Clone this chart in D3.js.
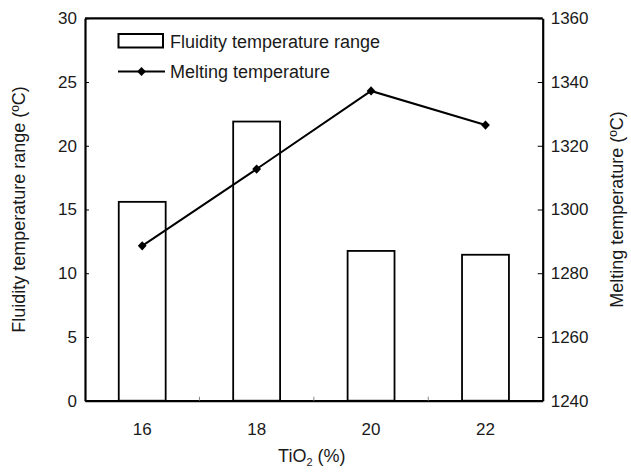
<!DOCTYPE html>
<html>
<head>
  <style>
    body { margin: 0; background: #fff; }
    text { font-family: "Liberation Sans", Arial, sans-serif; fill: #1a1a1a; }
  </style>
</head>
<body>
  <script src="https://d3js.org/d3.v7.min.js"></script>
  <script>
    // Data
    var categories = ["16", "18", "20", "22"];
    var fluidityRange = [15.6, 21.9, 11.75, 11.45];
    var meltingTemp = [1288.6, 1312.7, 1337.2, 1326.5];
    var leftTicks = [0, 5, 10, 15, 20, 25, 30];
    var rightTicks = [1240, 1260, 1280, 1300, 1320, 1340, 1360];

    var W = 631, H = 472;
    var margin = { top: 18.3, right: 88.3, bottom: 71.3, left: 85 },
      width = W - margin.left - margin.right,
      height = H - margin.top - margin.bottom;

    var svg = d3.select("body").append("svg")
      .attr("width", W)
      .attr("height", H);

    var g = svg.append("g")
      .attr("transform", "translate(" + margin.left + "," + margin.top + ")");

    var x = d3.scaleBand().domain(categories).range([0, width]);
    var yL = d3.scaleLinear().domain([0, 30]).range([height, 0]);
    var yR = d3.scaleLinear().domain([1240, 1360]).range([height, 0]);

    var barW = x.bandwidth() * 0.41;

    // Bars
    g.selectAll(".bar")
      .data(categories)
      .enter().append("rect")
      .attr("class", "bar")
      .attr("x", function (d) { return x(d) + (x.bandwidth() - barW) / 2; })
      .attr("width", barW)
      .attr("y", function (d, i) { return yL(fluidityRange[i]); })
      .attr("height", function (d, i) { return height - yL(fluidityRange[i]); })
      .attr("fill", "#fff")
      .attr("stroke", "#000")
      .attr("stroke-width", 1.8);

    // Melting temperature line
    var line = d3.line()
      .x(function (d, i) { return x(categories[i]) + x.bandwidth() / 2; })
      .y(function (d) { return yR(d); });

    g.append("path")
      .datum(meltingTemp)
      .attr("d", line)
      .attr("fill", "none")
      .attr("stroke", "#000")
      .attr("stroke-width", 2);

    var diamond = "M0,-4.6L4.4,0L0,4.6L-4.4,0Z";
    g.selectAll(".pt")
      .data(meltingTemp)
      .enter().append("path")
      .attr("class", "pt")
      .attr("d", diamond)
      .attr("transform", function (d, i) {
        return "translate(" + (x(categories[i]) + x.bandwidth() / 2) + "," + yR(d) + ")";
      })
      .attr("fill", "#000");

    // Axes
    var left = g.append("g")
      .call(d3.axisLeft(yL).tickValues(leftTicks).tickSizeInner(-4).tickSizeOuter(0).tickPadding(8));
    var right = g.append("g")
      .attr("transform", "translate(" + width + ",0)")
      .call(d3.axisRight(yR).tickValues(rightTicks).tickFormat(d3.format("d"))
        .tickSizeInner(-5).tickSizeOuter(0).tickPadding(8));
    var bottom = g.append("g")
      .attr("transform", "translate(0," + height + ")")
      .call(d3.axisBottom(x).tickSize(0).tickPadding(22));

    [left, right, bottom].forEach(function (a) {
      a.select(".domain").attr("stroke", "#000").attr("stroke-width", 2.2);
      a.selectAll(".tick line").attr("stroke", "#000").attr("stroke-width", 1);
      a.selectAll("text").attr("font-size", 17).attr("fill", "#1a1a1a")
        .attr("font-family", "Liberation Sans, Arial, sans-serif");
    });

    // Top border
    g.append("line")
      .attr("x1", 0).attr("x2", width).attr("y1", 0).attr("y2", 0)
      .attr("stroke", "#000").attr("stroke-width", 2.2);

    // Boundary ticks on bottom axis
    g.selectAll(".btick")
      .data(categories.slice(1))
      .enter().append("line")
      .attr("x1", function (d) { return x(d); })
      .attr("x2", function (d) { return x(d); })
      .attr("y1", height)
      .attr("y2", height - 4)
      .attr("stroke", "#888")
      .attr("stroke-width", 1);

    // Axis titles
    svg.append("text")
      .attr("transform", "translate(25," + (margin.top + height / 2) + ") rotate(-90)")
      .attr("text-anchor", "middle")
      .attr("font-size", 18)
      .text("Fluidity temperature range (ºC)");

    svg.append("text")
      .attr("transform", "translate(623," + (margin.top + height / 2) + ") rotate(-90)")
      .attr("text-anchor", "middle")
      .attr("font-size", 18)
      .text("Melting temperature (ºC)");

    var xt = svg.append("text")
      .attr("x", margin.left + width / 2 - 2)
      .attr("y", 462)
      .attr("text-anchor", "middle")
      .attr("font-size", 18);
    xt.append("tspan").text("TiO");
    xt.append("tspan").attr("font-size", 11).attr("dy", 4).text("2");
    xt.append("tspan").attr("dy", -4).text(" (%)");

    // Legend
    var lg = svg.append("g");
    lg.append("rect")
      .attr("x", 118.5).attr("y", 34).attr("width", 44.5).attr("height", 13.5)
      .attr("fill", "#fff").attr("stroke", "#000").attr("stroke-width", 2);
    lg.append("text")
      .attr("x", 170).attr("y", 47.5)
      .attr("font-size", 18)
      .text("Fluidity temperature range");
    lg.append("line")
      .attr("x1", 118).attr("x2", 165).attr("y1", 71.5).attr("y2", 71.5)
      .attr("stroke", "#000").attr("stroke-width", 2);
    lg.append("path")
      .attr("d", diamond)
      .attr("transform", "translate(141.5,71.5)")
      .attr("fill", "#000");
    lg.append("text")
      .attr("x", 170).attr("y", 77.5)
      .attr("font-size", 18)
      .text("Melting temperature");
  </script>
</body>
</html>
